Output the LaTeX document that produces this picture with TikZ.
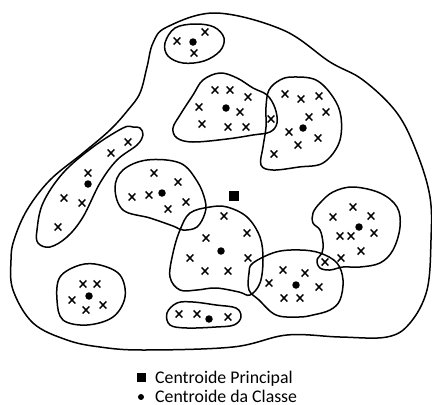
\documentclass[tikz,border=0pt]{standalone}
\usepackage{fontspec}
\setmainfont{Carlito}
\begin{document}
\begin{tikzpicture}[x=1pt,y=-1pt,
  blob/.style={line width=1.5pt, line join=round},
  xmark/.style={line width=1.5pt},
  cdot/.style={fill=black, circle, inner sep=0pt, minimum size=7.5pt},
  sq/.style={fill=black, inner sep=0pt, minimum size=10pt},
  legend/.style={anchor=base west, inner sep=0pt, font=\fontsize{17.8}{20}\selectfont}]
\useasboundingbox (0,0) rectangle (432,405);
% outer boundary
\draw[blob] plot[smooth cycle, tension=0.6] coordinates {
 (216,13) (283,30) (330,62) (363,80) (397,113) (417,153) (430,197) (431,240) (427,290) (410,323) (387,337)
 (340,337) (287,335) (233,347) (143,350) (100,347) (67,340) (33,323) (13,290) (11,260) (14,240) (27,210)
 (50,180) (83,153) (110,130) (128,110) (140,93) (147,67) (153,43) (167,27)};
% cluster 1 (top small)
\draw[blob] plot[smooth cycle, tension=0.6] coordinates {
 (165,43) (175,28) (195,24) (214,27) (224,38) (220,51) (204,61) (183,63) (168,56)};
% cluster 2
\draw[blob] plot[smooth cycle, tension=0.6] coordinates {
 (173,128) (180,115) (193,95) (203,80) (220,73) (237,78) (253,88) (267,95) (275,108) (277,123) (270,132)
 (253,135) (227,139) (193,142) (177,138)};
% cluster 3
\draw[blob] plot[smooth cycle, tension=0.6] coordinates {
 (269,90) (280,80) (293,77) (316,80) (333,97) (341,117) (339,143) (323,163) (299,167) (273,170) (261,165)
 (263,147) (266,127) (266,107)};
% cluster 4 (elongated)
\draw[blob] plot[smooth cycle, tension=0.6] coordinates {
 (133,127) (123,128) (93,147) (63,173) (43,203) (37,230) (38,243) (50,247) (67,237) (83,217) (100,183)
 (117,160) (137,145) (143,135) (140,128)};
% cluster 5
\draw[blob] plot[smooth cycle, tension=0.6] coordinates {
 (123,170) (147,160) (180,163) (197,181) (205,200) (205,213) (197,227) (183,230) (173,226) (150,218)
 (123,210) (115,188)};
% cluster 6 (center)
\draw[blob] plot[smooth cycle, tension=0.6] coordinates {
 (190,213) (210,207) (227,207) (247,217) (260,237) (263,260) (260,283) (250,295) (239,292) (216,288)
 (197,290) (180,290) (170,277) (173,253) (180,230)};
% cluster 7 (bottom middle)
\draw[blob] plot[smooth cycle, tension=0.6] coordinates {
 (253,263) (276,252) (300,250) (320,253) (337,263) (343,280) (340,300) (330,310) (313,315) (299,317)
 (276,315) (259,300) (249,290) (249,273)};
% cluster 8 (right)
\draw[blob] plot[smooth cycle, tension=0.6] coordinates {
 (313,213) (320,203) (333,192) (353,187) (380,193) (397,207) (400,227) (393,250) (380,263) (360,267)
 (343,267) (330,270) (320,268) (317,260) (322,253) (323,243) (320,230) (313,223)};
% cluster 9 (bottom left round)
\draw[blob] plot[smooth cycle, tension=0.6] coordinates {
 (60,277) (80,265) (100,265) (120,275) (125,297) (113,317) (87,325) (63,320) (57,300)};
% cluster 10 (bottom small)
\draw[blob] plot[smooth cycle, tension=0.6] coordinates {
 (167,313) (177,303) (193,302) (216,305) (236,308) (241,317) (234,325) (216,327) (187,328) (170,325)};
% crosses
\foreach \p in {
 (177,41),(205,32),(194,53),
 (215,90),(230,90),(248,97),(199,107),(240,112),(202,124),(228,127),(246,127),
 (285,94),(301,99),(319,96),(326,112),(309,117),(271,119),(289,132),(318,138),(298,145),(274,154),
 (128,142),(111,153),(88,173),(64,198),(82,203),(58,227),
 (154,173),(178,182),(132,197),(149,195),(186,202),(168,209),
 (224,216),(247,233),(206,238),(248,258),(190,258),(205,271),(228,271),
 (283,270),(305,273),(269,283),(319,287),(284,298),(300,298),
 (353,207),(333,217),(371,216),(340,236),(351,236),(374,233),(361,251),(341,258),(325,262),
 (83,284),(97,284),(72,300),(103,305),(86,310),
 (179,314),(197,314),(228,317)}{
  \draw[xmark] \p +(-3.3,-3.5) -- +(3.3,3.5) \p +(-3.3,3.5) -- +(3.3,-3.5);
}
% class centroids
\node[cdot] (c1) at (193,42) {};
\node[cdot] (c2) at (226,108) {};
\node[cdot] (c3) at (303,128) {};
\node[cdot] (c4) at (88,184) {};
\node[cdot] (c5) at (162,193) {};
\node[cdot] (c6) at (221,251) {};
\node[cdot] (c7) at (296,285) {};
\node[cdot] (c8) at (359,227) {};
\node[cdot] (c9) at (89,296) {};
\node[cdot] (c10) at (209,319) {};
% principal centroid
\node[sq] (pc) at (234,196) {};
% legend
\node[sq, minimum size=9pt] (lsq) at (141,377) {};
\node[legend] (l1) at (155,383) {Centroide Principal};
\node[cdot, minimum size=6pt] (ldot) at (141,397) {};
\node[legend] (l2) at (155,402) {Centroide da Classe};
\end{tikzpicture}
\end{document}
